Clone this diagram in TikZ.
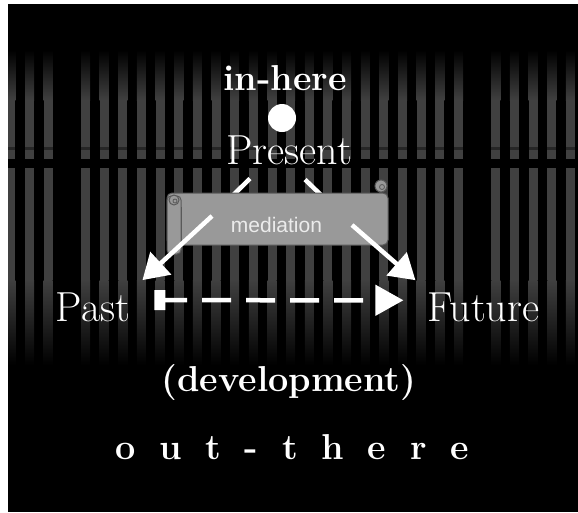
\documentclass[tikz,border=0pt]{standalone}
\usepackage{fontspec}
\newfontfamily\medfont{Liberation Sans}
\usetikzlibrary{arrows.meta}
\definecolor{stripe}{gray}{0.25}
\definecolor{scrollfill}{gray}{0.6}
\definecolor{scrolledge}{gray}{0.35}
\definecolor{scrolltext}{gray}{0.92}
\begin{document}
\begin{tikzpicture}[x=1pt, y=-1pt,
    big/.style={text=white, font=\fontsize{42}{48}\selectfont, anchor=base, inner sep=12pt},
    heavy/.style={text=white, font=\bfseries\fontsize{36}{42}\selectfont, anchor=base},
    stub/.style={white, line width=4.5pt},
    arr/.style={white, line width=4.5pt, -{Triangle[length=25pt, width=30pt]}},
    dasharr/.style={white, line width=4.5pt, dash pattern=on 29pt off 15pt, dash phase=5pt,
        {Rectangle[length=11pt, width=20pt]}-{Triangle[length=28pt, width=30pt]}},
    scroll/.style={fill=scrollfill, draw=scrolledge, line width=1pt}]
    \useasboundingbox (0,0) rectangle (578,512);
    \fill[white] (0,0) rectangle (578,512);
    \fill[black] (8,4) rectangle (578,512);
    \begin{scope}
        \clip (8,4) rectangle (578,512);
        \foreach \k in {0,1,2,4,5,...,24,26,27,...,30} {
            \pgfmathsetmacro{\x}{6.4+18.65*\k}
            \shade[top color=black, bottom color=stripe] (\x,50) rectangle (\x+9,100);
            \fill[stripe] (\x,100) rectangle (\x+9,147);
            \fill[stripe!60!black] (\x,147) rectangle (\x+9,150);
            \fill[stripe] (\x,150) rectangle (\x+9,159);
            \fill[stripe] (\x,168) rectangle (\x+9,280);
            \shade[top color=stripe, bottom color=black] (\x,280) rectangle (\x+9,365);
        }
    \end{scope}

    \node[heavy] (inhere) at (285,90) {in-here};
    \node[circle, fill=white, minimum size=28pt, inner sep=0pt] (dot) at (282,118) {};
    \node[big] (present) at (289,164) {Present};
    \node[big] (past) at (93,321) {Past};
    \node[big] (future) at (483.5,321) {Future};
    \node[heavy] (dev) at (289,391) {(development)};
    \node[heavy] (outthere) at (292,459) {\spaceskip=0.66em o u t - t h e r e};

    \coordinate (ltop) at ([shift={(-39,2)}]present.south);
    \coordinate (rtop) at ([shift={(16,3)}]present.south);
    \coordinate (lmid) at (212,216);
    \coordinate (rmid) at (352,225);
    \draw[stub] (ltop) -- (lmid);
    \draw[stub] (rtop) -- (rmid);

    \filldraw[scroll, rounded corners=5pt] (167,193) rectangle (388,245);
    \filldraw[scroll, rounded corners=4pt] (167,196) rectangle (181,254);
    \draw[scrolledge, line width=1pt] (181,207) -- (181,245);
    \filldraw[scroll] (174,200) circle (5);
    \draw[scrolledge, line width=0.8pt] (175,201) circle (2);
    \filldraw[scroll] (381,186) circle (6);
    \draw[scrolledge, line width=0.8pt] (382,187) circle (2.5);
    \node[text=scrolltext, font=\medfont\fontsize{21}{24}\selectfont, anchor=base] (med) at (276.5,232) {mediation};

    \draw[arr] (lmid) -- (past.north east);
    \draw[arr] (rmid) -- (future.north west);
    \draw[dasharr] ([shift={(12,-6.6)}]past.east) -- ([shift={(-12,-6.6)}]future.west);
\end{tikzpicture}
\end{document}
